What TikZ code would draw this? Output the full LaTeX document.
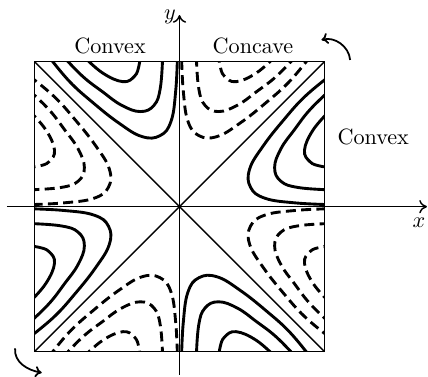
\documentclass[tikz,border=0pt]{standalone}
\usepackage{tikz}
\usetikzlibrary{arrows.meta}

\begin{document}
\begin{tikzpicture}[x=2.3cm,y=2.3cm,
    thinline/.style={line width=0.65pt},
    solidcurve/.style={line width=1.3pt},
    dashcurve/.style={line width=1.3pt, dash pattern=on 4.5pt off 2.4pt}]
    \useasboundingbox (-1.238,-1.1745) rectangle (1.714,1.4255);
    % вершини квадрата
    \coordinate (O) at (0,0);
    \coordinate (A) at (-1,-1);
    \coordinate (B) at (1,-1);
    \coordinate (C) at (1,1);
    \coordinate (D) at (-1,1);

    % лінії рівня (одна восьмушка, далі повороти і відбиття)
    \begin{scope}
        \clip (A) rectangle (C);
        \foreach \a in {0,90,180,270} {
            \foreach \st/\m in {solidcurve/1, dashcurve/-1} {
                \begin{scope}[rotate=\a, xscale=\m]
                    \draw[\st] plot[smooth, tension=0.7] coordinates {(-0.665,1.04) (-0.530,0.922) (-0.390,0.862) (-0.310,0.900) (-0.280,0.970) (-0.272,1.04)};
                    \draw[\st] plot[smooth, tension=0.7] coordinates {(-0.805,1.04) (-0.668,0.899) (-0.530,0.792) (-0.400,0.700) (-0.270,0.656) (-0.175,0.700) (-0.132,0.820) (-0.116,1.04)};
                    \draw[\st] plot[smooth, tension=0.7] coordinates {(-0.905,1.04) (-0.760,0.865) (-0.600,0.720) (-0.420,0.578) (-0.260,0.484) (-0.134,0.490) (-0.058,0.590) (-0.026,0.800) (-0.014,1.04)};
                \end{scope}
            }
        }
    \end{scope}

    % квадрат і діагоналі
    \draw[thinline] (A) rectangle (C);
    \draw[thinline] (A) -- (C);
    \draw[thinline] (B) -- (D);

    % осі
    \coordinate (xs) at (-1.19,0);
    \coordinate (xe) at (1.707,0);
    \coordinate (ys) at (0,-1.16);
    \coordinate (ye) at (0,1.322);
    \draw[thinline, -{To[length=3.5pt,width=6pt]}] (xs) -- (xe);
    \draw[thinline, -{To[length=3.5pt,width=6pt]}] (ys) -- (ye);
    \node (xlab) at (1.652,-0.114) {$x$};
    \node (ylab) at (-0.066,1.310) {$y$};

    % підписи
    \node (cvxtop) at (-0.479,1.11) {Convex};
    \node (ccvtop) at (0.507,1.11) {Concave};
    \node (cvxright) at (1.336,0.483) {Convex};

    % стрілки повороту
    \coordinate (r1) at (1.177,1.012);
    \coordinate (r2) at (0.979,1.150);
    \coordinate (l1) at (-1.134,-0.977);
    \coordinate (l2) at (-0.95,-1.145);
    \draw[line width=0.8pt, -{To[length=3pt,width=5pt]}] (r1) to[out=95, in=15] (r2);
    \draw[line width=0.8pt, -{To[length=3pt,width=5pt]}] (l1) to[out=-95, in=170] (l2);
\end{tikzpicture}
\end{document}
